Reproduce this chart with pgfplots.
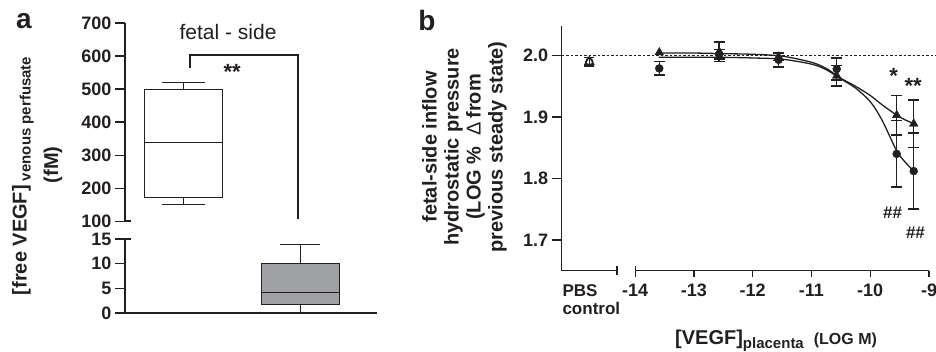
\documentclass[border=0pt]{standalone}
\usepackage{pgfplots}
\pgfplotsset{compat=1.18}
\usepackage{fontspec}
\setmainfont{Liberation Sans}
\definecolor{ink}{HTML}{231F20}
\definecolor{boxgray}{HTML}{A0A1A5}
\newcommand{\tl}{\fontsize{18}{20}\selectfont\bfseries}
\begin{document}
\begin{tikzpicture}
\path[use as bounding box] (0pt,0pt) rectangle (936pt,352pt);
\pgfplotsset{
  common/.style={scale only axis, clip=false,
    axis line style={-, line width=1.3pt, color=ink},
    tick style={line width=1.3pt, color=ink},
    major tick length=10pt,
    ticklabel style={font=\tl, text=ink},
  }
}
% ---------- panel a, upper part ----------
\begin{axis}[common,
  at={(125pt,130.7pt)}, anchor=south west,
  width=252pt, height=198.3pt,
  xmin=0.504, xmax=2.658, ymin=100, ymax=700,
  axis x line*=bottom, axis y line*=left, tick align=outside,
  x axis line style={draw=none}, xtick=\empty,
  ytick={100,200,300,400,500,600,700},
  yticklabels={100,200,300,400,500,600,700},
]
% box 1: whiskers 152 / 519, quartiles 171 / 500, median 337
\addplot[draw=ink, fill=white, line width=1pt] coordinates {(0.6665,171) (1.3335,171) (1.3335,500) (0.6665,500)} -- cycle;
\addplot[ink, line width=1pt] coordinates {(0.6665,337) (1.3335,337)};
\addplot[ink, line width=1pt] coordinates {(1,500) (1,519)};
\addplot[ink, line width=1pt] coordinates {(0.816,519) (1.184,519)};
\addplot[ink, line width=1pt] coordinates {(1,171) (1,152)};
\addplot[ink, line width=1pt] coordinates {(0.816,152) (1.184,152)};
\draw[line width=2.3pt, ink] (axis cs:1.06,563) -- (axis cs:1.06,603) -- (axis cs:1.983,603) -- (axis cs:1.983,108);
\node[font=\fontsize{22}{22}\selectfont\bfseries, text=ink] at (axis cs:1.42,552) {**};
\node[font=\fontsize{21}{21}\selectfont, text=ink] at (axis cs:1.385,673) {fetal - side};
\draw[line width=2pt, ink] (axis cs:0.504,100) -- ++(6pt,0pt);
\end{axis}
% ---------- panel a, lower part ----------
\begin{axis}[common,
  at={(125pt,39pt)}, anchor=south west,
  width=252pt, height=74pt,
  xmin=0.504, xmax=2.658, ymin=0, ymax=15,
  axis x line*=bottom, axis y line*=left, tick align=outside,
  xtick=\empty,
  ytick={0,5,10,15}, yticklabels={0,5,10,15},
]
% box 2: whiskers 0 / 13.8, quartiles 1.8 / 10.1, median 4.2
\addplot[draw=ink, fill=boxgray, line width=1pt] coordinates {(1.6665,1.8) (2.3335,1.8) (2.3335,10.1) (1.6665,10.1)} -- cycle;
\addplot[ink, line width=1pt] coordinates {(1.6665,4.2) (2.3335,4.2)};
\addplot[ink, line width=1pt] coordinates {(2,10.1) (2,13.8)};
\addplot[ink, line width=1pt] coordinates {(1.833,13.8) (2.167,13.8)};
\addplot[ink, line width=1pt] coordinates {(2,1.8) (2,0)};
\addplot[ink, line width=2.2pt] coordinates {(1.833,0) (2.167,0)};
\draw[line width=1.3pt, ink] (axis cs:0.504,15) -- ++(6pt,0pt);
\end{axis}
% ---------- panel b ----------
\begin{axis}[common,
  at={(561.7pt,81.3pt)}, anchor=south west,
  width=367.3pt, height=244.7pt,
  xmin=-15.25, xmax=-9, ymin=1.65, ymax=2.048,
  axis x line*=bottom, axis y line*=left, tick align=outside,
  x axis line style={draw=none},
  xtick={-14,-13,-12,-11,-10,-9}, xticklabels={-14,-13,-12,-11,-10,-9},
  xtick style={/pgfplots/major tick length=6pt},
  ytick={1.7,1.8,1.9,2.0}, yticklabels={1.7,1.8,1.9,2.0},
]
\draw[line width=1.3pt, ink] (axis cs:-15.25,1.65) -- (axis cs:-14.31,1.65);
\draw[line width=1.3pt, ink] (axis cs:-14,1.65) -- (axis cs:-9,1.65);
\draw[line width=1.3pt, ink] (axis cs:-14.31,1.65) ++(0pt,4.5pt) -- ++(0pt,-9pt);
\draw[line width=1.3pt, ink] (axis cs:-14,1.65) -- ++(0pt,4.5pt);
\addplot[ink, line width=0.8pt, dash pattern=on 2.5pt off 2pt] coordinates {(-15.25,2.0) (-8.88,2.0)};
% fitted curves
\addplot[ink, line width=1.3pt, smooth] coordinates {
 (-13.6,1.997) (-13,1.997) (-12.5,1.997) (-12,1.996) (-11.5,1.994) (-11,1.986)
 (-10.75,1.977) (-10.5,1.962) (-10.25,1.947) (-10,1.925) (-9.8,1.895) (-9.55,1.845) (-9.4,1.826) (-9.25,1.811)};
\addplot[ink, line width=1.3pt, smooth] coordinates {
 (-13.6,2.004) (-13,2.004) (-12.5,2.003) (-12,2.002) (-11.5,1.999) (-11,1.989)
 (-10.75,1.979) (-10.5,1.963) (-10.25,1.950) (-10,1.935) (-9.8,1.920) (-9.55,1.903) (-9.4,1.895) (-9.25,1.889)};
% circles
\addplot[ink, only marks, mark=*, mark size=4pt,
  error bars/.cd, y dir=both, y explicit,
  error bar style={line width=1.5pt, ink},
  error mark options={rotate=90, mark size=5.5pt, line width=1.5pt, ink}]
 coordinates {
 (-13.59,1.979) +- (0,0.011)
 (-12.57,2.002) +- (0,0.008)
 (-11.56,1.993) +- (0,0.012)
 (-10.57,1.978) +- (0,0.018)
 (-9.55,1.840) +- (0,0.054)
 (-9.26,1.812) +- (0,0.062)
};
% triangles
\addplot[ink, only marks, mark=triangle*, mark size=5pt,
  error bars/.cd, y dir=both, y explicit,
  error bar style={line width=1.5pt, ink},
  error mark options={rotate=90, mark size=5.5pt, line width=1.5pt, ink}]
 coordinates {
 (-12.57,2.006) +- (0,0.016)
 (-11.56,1.998) +- (0,0.006)
 (-10.57,1.967) +- (0,0.017)
 (-9.55,1.903) +- (0,0.032)
 (-9.26,1.889) +- (0,0.039)
};
\addplot[ink, only marks, mark=triangle*, mark size=5pt] coordinates {(-13.59,2.005)};
% PBS control
\addplot[ink, only marks, mark=triangle, mark size=5pt, mark options={line width=1.2pt, fill=white},
  error bars/.cd, y dir=both, y explicit,
  error bar style={line width=1.3pt, ink},
  error mark options={rotate=90, mark size=5pt, line width=1.3pt, ink}]
 coordinates {(-14.78,1.990) +- (0,0.007)};
\addplot[ink, only marks, mark=o, mark size=3.5pt, mark options={line width=1.2pt}]
 coordinates {(-14.78,1.990)};
% annotations
\node[font=\fontsize{22}{22}\selectfont\bfseries, text=ink] at (axis cs:-9.6,1.966) {*};
\node[font=\fontsize{22}{22}\selectfont\bfseries, text=ink] at (axis cs:-9.27,1.951) {**};
\node[font=\fontsize{17}{17}\selectfont\bfseries, text=ink] at (axis cs:-9.62,1.744) {\#\#};
\node[font=\fontsize{17}{17}\selectfont\bfseries, text=ink] at (axis cs:-9.23,1.711) {\#\#};
\end{axis}
% ---------- free text ----------
\node[font=\fontsize{28}{28}\selectfont\bfseries, text=ink] at (24pt,331pt) {a};
\node[font=\fontsize{28}{28}\selectfont\bfseries, text=ink] at (427pt,331pt) {b};
\node[rotate=90, text=ink, font=\bfseries] at (23pt,176pt)
  {{\fontsize{20}{20}\selectfont [free VEGF]}\raisebox{-4pt}{\fontsize{15}{15}\selectfont\ venous perfusate}};
\node[rotate=90, text=ink, font=\fontsize{20}{20}\selectfont\bfseries] at (53pt,187pt) {(fM)};
\node[rotate=90, align=center, text=ink, font=\fontsize{20}{22}\selectfont\bfseries] at (464.5pt,205pt)
  {fetal-side inflow\\ hydrostatic pressure\\ (LOG \%~~{\mdseries Δ}\,from\\ previous steady state)};
\node[anchor=base west, text=ink, font=\fontsize{17}{17}\selectfont\bfseries] at (559pt,55.3pt) {PBS};
\node[anchor=base west, text=ink, font=\fontsize{17}{17}\selectfont\bfseries] at (559pt,37.5pt) {control};
\node[anchor=base west, text=ink, inner sep=0pt] at (675pt,7pt)
  {{\fontsize{20}{20}\selectfont\bfseries [VEGF]}\raisebox{-3.5pt}{\fontsize{15}{15}\selectfont\bfseries placenta}\hspace{10pt}{\fontsize{16}{16}\selectfont\bfseries (LOG M)}};
\end{tikzpicture}
\end{document}
